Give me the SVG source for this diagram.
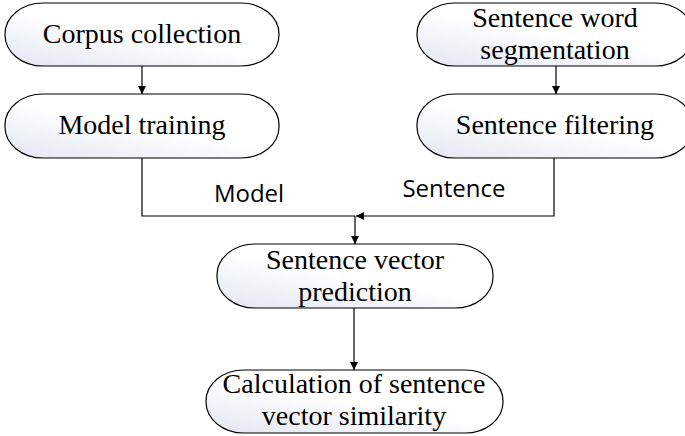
<svg xmlns="http://www.w3.org/2000/svg" width="685" height="436" viewBox="0 0 685 436">
<style>
.box{fill:url(#g);stroke:#000;stroke-width:1.2}
.t{font-family:"Liberation Serif","Times New Roman",serif;font-size:28px;fill:#000;text-anchor:middle}
.l{font-family:"Open Sans","Liberation Sans",sans-serif;font-size:24px;fill:#000;text-anchor:middle}
.c{fill:none;stroke:#000;stroke-width:1.2}
</style>
<defs>
<linearGradient id="g" x1="0" y1="1" x2="0.8" y2="0">
<stop offset="0" stop-color="#e3e6f3"/>
<stop offset="0.55" stop-color="#ffffff"/>
</linearGradient>
<marker id="a" viewBox="0 0 10 10" refX="10" refY="5" markerWidth="8" markerHeight="8" markerUnits="userSpaceOnUse" orient="auto">
<path d="M0,0 L10,5 L0,10 z" fill="#000"/>
</marker>
</defs>
<g id="n1"><rect class="box" x="5" y="3" width="274" height="63" rx="38" ry="31"/><text class="t" x="142" y="43">Corpus collection</text></g>
<g id="n2"><rect class="box" x="5" y="94" width="274" height="64" rx="38" ry="31"/><text class="t" x="142" y="134">Model training</text></g>
<g id="n3"><rect class="box" x="417" y="3" width="276" height="63" rx="38" ry="31"/><text class="t" x="555" y="27">Sentence word</text><text class="t" x="555" y="59">segmentation</text></g>
<g id="n4"><rect class="box" x="417" y="94" width="276" height="64" rx="38" ry="31"/><text class="t" x="555" y="134">Sentence filtering</text></g>
<g id="n5"><rect class="box" x="217" y="244" width="276" height="64" rx="38" ry="31"/><text class="t" x="355" y="269">Sentence vector</text><text class="t" x="355" y="301">prediction</text></g>
<g id="n6"><rect class="box" x="206" y="370" width="297" height="63" rx="38" ry="31"/><text class="t" x="354" y="393">Calculation of sentence</text><text class="t" x="354" y="425">vector similarity</text></g>
<g id="connectors">
<line class="c" x1="142" y1="66" x2="142" y2="94" marker-end="url(#a)"/>
<line class="c" x1="556" y1="66" x2="556" y2="94" marker-end="url(#a)"/>
<polyline class="c" points="142,158 142,216 355,216"/>
<polyline class="c" points="554,158 554,216 356,216" marker-end="url(#a)"/>
<line class="c" x1="355" y1="216" x2="355" y2="244" marker-end="url(#a)"/>
<line class="c" x1="354" y1="308" x2="354" y2="370" marker-end="url(#a)"/>
<text class="l" x="249" y="202">Model</text>
<text class="l" x="454" y="197">Sentence</text>
</g>
</svg>
